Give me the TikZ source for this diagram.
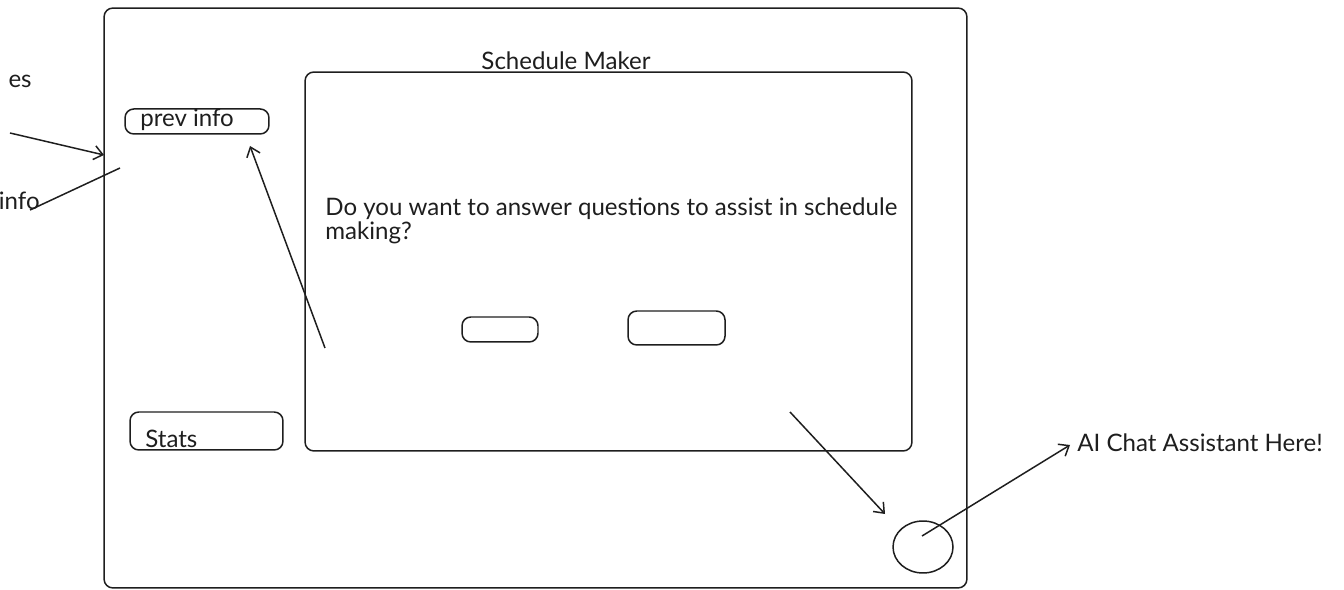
\documentclass[tikz,border=0pt]{standalone}
\usepackage{fontspec}
\setmainfont{Lato}
\usetikzlibrary{arrows.meta,shapes.geometric}
\definecolor{ink}{HTML}{1E1E1E}

\tikzset{
  box/.style={draw=ink, line width=0.85pt, rounded corners=5pt, inner sep=0pt},
  note/.style={text=ink, inner sep=0pt, font=\fontsize{13.7}{13.7}\selectfont},
  pointer/.style={draw=ink, line width=0.85pt, -{Straight Barb[length=5pt,width=8pt]}},
}

\begin{document}
\begin{tikzpicture}[x=0.02cm, y=-0.02cm]
    \useasboundingbox (0,0) rectangle (1344,590);
    % screen frame and dialog
    \node[box, minimum width=17.26cm, minimum height=11.6cm] (frame) at (535.5,298) {};
    \node[box, minimum width=12.14cm, minimum height=7.58cm] (dialog) at (608.5,261.5) {};
    \node[note, anchor=base] (title) at (566,70) {Schedule Maker};
    \node[note, anchor=north west, align=left] (question) at (325,197) {Do you want to answer questions to assist in schedule\\making?};

    % buttons
    \node[box, minimum width=1.52cm, minimum height=0.5cm] (yesbtn) at (500,329.5) {};
    \node[box, minimum width=1.94cm, minimum height=0.68cm] (nobtn) at (676.5,328) {};

    % side panel
    \node[box, minimum width=2.88cm, minimum height=0.5cm] (prevbox) at (197,121.5) {};
    \node[note, anchor=base west] (prevtext) at (140,127) {prev info};
    \node[box, minimum width=3.06cm, minimum height=0.76cm] (statsbox) at (206.5,431) {};
    \node[note, anchor=base west] (statstext) at (145,448) {Stats};

    % chat bubble
    \node[box, ellipse, minimum width=1.2cm, minimum height=1.04cm] (chat) at (923,547) {};
    \node[note, anchor=base west] (chatnote) at (1077,452) {AI Chat Assistant Here!};

    % cut off notes on the left
    \node[note, anchor=base east] (lefttop) at (32,88) {es};
    \node[note, anchor=base east] (leftbot) at (40,210) {info};

    % pointers
    \coordinate (p1a) at (10,133); \coordinate (p1b) at (104,155);
    \coordinate (p2a) at (120,168); \coordinate (p2b) at (30,210);
    \coordinate (p3a) at (325,348); \coordinate (p3b) at (250,146);
    \coordinate (p4a) at (790,412); \coordinate (p4b) at (885,514);
    \coordinate (p5a) at (922,536); \coordinate (p5b) at (1070,445);
    \draw[pointer] (p1a) -- (p1b);
    \draw[draw=ink, line width=0.85pt] (p2a) -- (p2b);
    \draw[pointer] (p3a) -- (p3b);
    \draw[pointer] (p4a) -- (p4b);
    \draw[pointer] (p5a) -- (p5b);
\end{tikzpicture}
\end{document}
